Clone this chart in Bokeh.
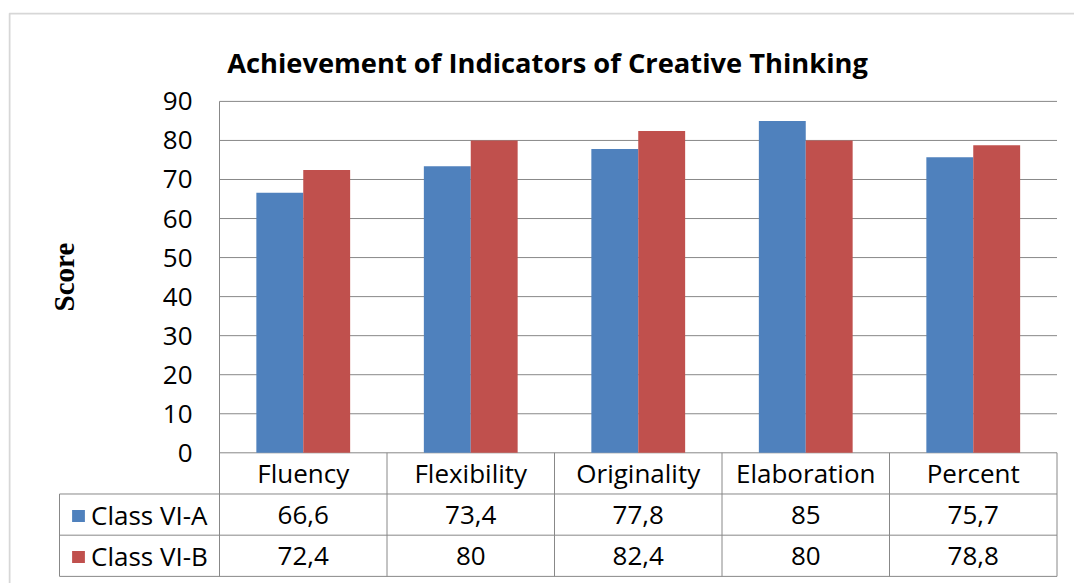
import math
from bokeh.plotting import figure
from bokeh.models import (Range1d, FixedTicker, Legend, LegendItem, Label,
                          BoxAnnotation, ColumnDataSource)
from bokeh.core.properties import value
from bokeh.embed import file_html
from bokeh.resources import INLINE

# ---------------- data ----------------
categories = ["Fluency", "Flexibility", "Originality", "Elaboration", "Percent"]
series_names = ["Class VI-A", "Class VI-B"]
class_a = [66.6, 73.4, 77.8, 85, 75.7]
class_b = [72.4, 80, 82.4, 80, 78.8]
y_ticks = [0, 10, 20, 30, 40, 50, 60, 70, 80, 90]
title_text = "Achievement of Indicators of Creative Thinking"
y_label = "Score"

# ---------------- style / layout ----------------
BLUE = "#4F81BD"
RED = "#C0504D"
GRID = "#888888"
BORDER = "#7a7a7a"
FONT = "Open Sans"
FS = "26px"

W, H = 1074, 583
FRAME_L, FRAME_T = 8, 12            # chart area (frame) origin on the canvas
PLOT_L, PLOT_R = 219.0, 1056.5      # plot area left / right (px)
ZERO_Y, TOP_Y = 452.3, 100.9        # pixel rows of 0 and of the top tick
LEG_L = 59.0                        # left edge of the table's legend column

n = len(categories)
cat_px = (PLOT_R - PLOT_L) / n
val_px = (ZERO_Y - TOP_Y) / y_ticks[-1]
x_lo = -(PLOT_L - FRAME_L) / cat_px
x_hi = x_lo + (W - FRAME_L) / cat_px
y_hi = (ZERO_Y - FRAME_T) / val_px
y_lo = -(H - ZERO_Y) / val_px
x_leg = -(PLOT_L - LEG_L) / cat_px

bar_w = 0.28
row_h = 10.55            # data-table row height in value units
n_rows = 3


def fmt(v):
    return f"{v:g}".replace(".", ",")


p = figure(width=W, height=H,
           x_range=Range1d(x_lo, x_hi), y_range=Range1d(y_lo, y_hi),
           output_backend="svg", toolbar_location=None,
           x_axis_location=None,
           min_border_left=FRAME_L, min_border_right=0,
           min_border_top=FRAME_T, min_border_bottom=0)
p.outline_line_color = None
p.background_fill_color = "white"
p.border_fill_color = "white"
p.grid.visible = False

# y axis (labels pushed into the chart area, right-aligned at the plot area)
p.yaxis.ticker = FixedTicker(ticks=y_ticks)
p.yaxis.major_tick_line_color = None
p.yaxis.minor_tick_line_color = None
p.yaxis.major_tick_out = 0
p.yaxis.major_tick_in = 0
p.yaxis.major_label_standoff = -int(PLOT_L - 27 - FRAME_L)
p.yaxis.axis_line_color = None
p.yaxis.major_label_text_font = FONT
p.yaxis.major_label_text_font_size = FS
p.yaxis.major_label_text_color = "black"

# horizontal gridlines of the plot area
p.segment(x0=[0] * len(y_ticks), y0=y_ticks, x1=[n] * len(y_ticks), y1=y_ticks,
          line_color=GRID, line_width=1)
# plot area left edge
p.segment(x0=[0], y0=[-n_rows * row_h], x1=[0], y1=[y_ticks[-1]],
          line_color=GRID, line_width=1)

# bars
src_a = ColumnDataSource(dict(x=[i + 0.5 - bar_w / 2 for i in range(n)], top=class_a))
src_b = ColumnDataSource(dict(x=[i + 0.5 + bar_w / 2 for i in range(n)], top=class_b))
ra = p.vbar(x="x", top="top", bottom=0, width=bar_w, source=src_a,
            fill_color=BLUE, line_color=None)
rb = p.vbar(x="x", top="top", bottom=0, width=bar_w, source=src_b,
            fill_color=RED, line_color=None)

# data table lines
hy = [-(k + 1) * row_h for k in range(n_rows)]
p.segment(x0=[x_leg] * n_rows, y0=hy, x1=[n] * n_rows, y1=hy,
          line_color=GRID, line_width=1)
vx = list(range(1, n + 1))
p.segment(x0=vx, y0=[0] * n, x1=vx, y1=[-n_rows * row_h] * n,
          line_color=GRID, line_width=1)
p.segment(x0=[x_leg], y0=[-row_h], x1=[x_leg], y1=[-n_rows * row_h],
          line_color=GRID, line_width=1)

# table text
cx = [i + 0.5 for i in range(n)]
common = dict(text_align="center", text_baseline="middle",
              text_font=value(FONT), text_font_size=value(FS), text_color="black")
p.text(x=cx, y=[-0.5 * row_h] * n, text=categories, **common)
p.text(x=cx, y=[-1.5 * row_h] * n, text=[fmt(v) for v in class_a], **common)
p.text(x=cx, y=[-2.5 * row_h] * n, text=[fmt(v) for v in class_b], **common)

# legend keys of the data table
legend = Legend(items=[LegendItem(label=series_names[0], renderers=[ra]),
                       LegendItem(label=series_names[1], renderers=[rb])],
                location=(int(LEG_L - FRAME_L) + 11, 9), orientation="vertical",
                margin=0, padding=12, spacing=5,
                glyph_width=16, glyph_height=15, label_standoff=5,
                label_height=36, label_width=100,
                label_text_font=FONT, label_text_font_size=FS,
                label_text_color="black",
                border_line_color=None, background_fill_alpha=0)
p.add_layout(legend)

# outer chart border (left and top edges)
p.add_layout(BoxAnnotation(left=1, left_units="screen",
                           right=W + 50, right_units="screen",
                           top=H - FRAME_T - 1, top_units="screen",
                           bottom=-50, bottom_units="screen",
                           fill_alpha=0, line_color=BORDER, line_width=2))

# chart title
p.add_layout(Label(x=547 - FRAME_L, x_units="screen", y=H - 62, y_units="screen",
                   text=title_text, text_align="center", text_baseline="alphabetic",
                   text_font=FONT, text_font_style="bold",
                   text_font_size="27.3px", text_color="black"))

# y axis title
p.add_layout(Label(x=63 - FRAME_L, x_units="screen",
                   y=(y_ticks[0] + y_ticks[-1]) / 2, y_units="data",
                   text=y_label, angle=math.pi / 2,
                   text_align="center", text_baseline="middle",
                   text_font="Liberation Serif", text_font_style="bold",
                   text_font_size="29px", text_color="black"))

open("out.html", "w").write(file_html(p, INLINE))
